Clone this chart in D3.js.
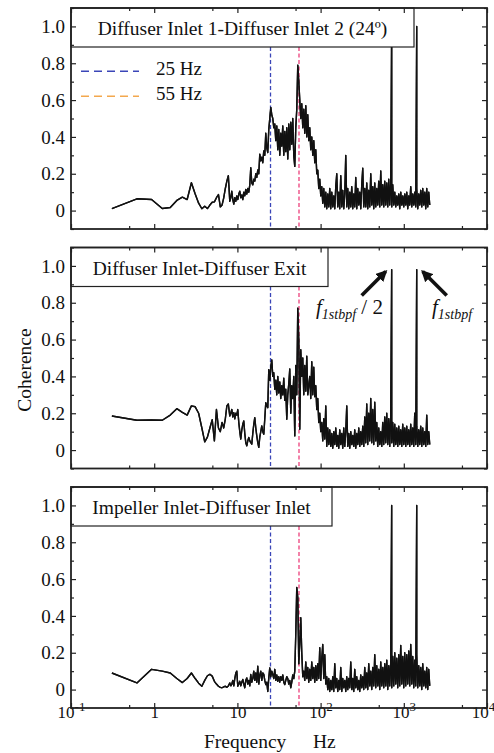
<!DOCTYPE html>
<html>
<head>
<meta charset="utf-8">
<script src="https://cdn.jsdelivr.net/npm/d3@7/dist/d3.min.js"></script>
<style>
  body { margin: 0; background: #fff; }
  svg text { font-family: "Liberation Serif", "Times New Roman", serif; fill: #111; }
</style>
</head>
<body>
<div id="graphic"></div>
<script>
// Coherence spectra - three probe pairs, log frequency axis

// Low-frequency bins (first FFT lines, visible one by one)
let freqLow = [0.31, 0.62, 0.93, 1.25, 1.56, 1.87, 2.18, 2.49, 2.8, 3.11, 3.42, 3.74, 4.05,
  4.36, 4.67, 4.98, 5.29, 5.6, 5.92, 6.23, 6.54, 6.85, 7.16, 7.47, 7.78];

let coh1Low = [0.011, 0.064, 0.06, 0.011, 0.017, 0.055, 0.073, 0.06, 0.151, 0.09, 0.04, 0.01, 0.024,
  0.011, 0.03, 0.045, 0.047, 0.07, 0.087, 0.02, 0.03, 0.069, 0.12, 0.16, 0.19];
let coh2Low = [0.185, 0.162, 0.163, 0.162, 0.19, 0.225, 0.205, 0.19, 0.24, 0.235, 0.2, 0.12, 0.045,
  0.07, 0.12, 0.165, 0.05, 0.22, 0.12, 0.1, 0.15, 0.12, 0.17, 0.24, 0.25];
let coh3Low = [0.09, 0.036, 0.11, 0.1, 0.09, 0.06, 0.038, 0.06, 0.09, 0.06, 0.035, 0.018, 0.05,
  0.075, 0.083, 0.073, 0.045, 0.03, 0.018, 0.012, 0.01, 0.015, 0.018, 0.012, 0.02];

// Dense part of the spectrum, read on a log-even grid from denseStart to denseEnd (Hz)
let denseStart = 8.1, denseEnd = 2050;

let coh1Dense = [
  0.05,0.07,0.105,0.06,0.035,0.07,0.05,0.08,0.06,0.09,
  0.105,0.07,0.085,0.06,0.1,0.08,0.115,0.09,0.12,0.1,
  0.14,0.233,0.15,0.14,0.17,0.16,0.2,0.18,0.22,0.2,
  0.306,0.27,0.29,0.26,0.324,0.3,0.42,0.34,0.315,0.44,
  0.5,0.56,0.52,0.5,0.45,0.47,0.38,0.46,0.33,0.44,
  0.3,0.42,0.35,0.46,0.3,0.43,0.32,0.45,0.28,0.47,
  0.33,0.48,0.36,0.5,0.3,0.24,0.45,0.55,0.79,0.7,
  0.6,0.5,0.58,0.45,0.55,0.42,0.57,0.4,0.52,0.38,
  0.45,0.33,0.4,0.3,0.38,0.26,0.33,0.2,0.22,0.12,
  0.17,0.08,0.13,0.04,0.12,0.02,0.1,0.01,0.09,0.02,
  0.12,0.01,0.1,0.02,0.08,0.01,0.13,0.2,0.02,0.1,
  0.01,0.19,0.02,0.11,0.01,0.09,0.3,0.02,0.12,0.01,
  0.1,0.02,0.13,0.01,0.09,0.02,0.18,0.01,0.12,0.03,
  0.1,0.01,0.14,0.23,0.02,0.12,0.02,0.15,0.01,0.11,
  0.02,0.2,0.03,0.13,0.01,0.15,0.02,0.12,0.03,0.16,
  0.02,0.215,0.03,0.14,0.02,0.16,0.03,0.15,0.02,0.17,
  0.03,0.15,0.02,0.14,0.03,0.1,0.02,0.08,0.03,0.09,
  0.01,0.1,0.03,0.08,0.02,0.09,0.03,0.1,0.01,0.08,
  0.03,0.13,0.02,0.09,0.03,0.1,0.02,0.12,0.01,0.09,
  0.03,0.11,0.02,0.12,0.03,0.1,0.01,0.12,0.02,0.1,0.03];

let coh2Dense = [
  0.185,0.2,0.221,0.18,0.203,0.17,0.2,0.19,0.22,0.15,
  0.1,0.06,0.11,0.14,0.158,0.09,0.04,0.023,0.05,0.069,
  0.05,0.04,0.032,0.09,0.14,0.176,0.12,0.077,0.04,0.015,
  0.07,0.1,0.131,0.1,0.086,0.17,0.257,0.24,0.23,0.437,
  0.38,0.45,0.49,0.4,0.42,0.33,0.38,0.3,0.4,0.31,
  0.37,0.28,0.35,0.3,0.39,0.27,0.33,0.167,0.3,0.36,
  0.44,0.2,0.35,0.28,0.4,0.077,0.46,0.3,0.77,0.6,
  0.113,0.545,0.4,0.5,0.3,0.46,0.32,0.51,0.3,0.35,
  0.4,0.28,0.48,0.3,0.45,0.29,0.35,0.22,0.28,0.15,
  0.2,0.1,0.15,0.05,0.17,0.06,0.24,0.02,0.12,0.03,
  0.11,0.02,0.09,0.01,0.1,0.03,0.12,0.02,0.08,0.01,
  0.11,0.03,0.09,0.01,0.12,0.02,0.1,0.24,0.02,0.09,
  0.01,0.1,0.03,0.08,0.02,0.11,0.01,0.09,0.03,0.12,
  0.02,0.1,0.03,0.13,0.02,0.18,0.04,0.25,0.03,0.2,
  0.05,0.28,0.04,0.22,0.03,0.26,0.05,0.15,0.02,0.12,
  0.03,0.1,0.02,0.15,0.03,0.18,0.04,0.2,0.03,0.17,
  0.02,0.19,0.04,0.15,0.02,0.14,0.03,0.12,0.02,0.13,
  0.03,0.11,0.02,0.14,0.03,0.12,0.02,0.13,0.03,0.11,
  0.02,0.14,0.03,0.12,0.02,0.2,0.03,0.13,0.02,0.11,
  0.03,0.13,0.02,0.12,0.03,0.1,0.02,0.19,0.03,0.1,0.03];

let coh3Dense = [
  0.036,0.02,0.03,0.05,0.02,0.06,0.09,0.1,0.018,0.03,
  0.045,0.02,0.04,0.055,0.03,0.01,0.05,0.063,0.03,0.05,
  0.02,0.082,0.04,0.06,0.1,0.05,0.09,0.04,0.127,0.03,
  0.08,0.1,0.05,0.09,0.082,0.05,0.027,0.04,-0.01,0.063,
  0.118,0.07,0.1,0.082,0.06,0.11,0.05,0.08,0.045,0.07,
  0.04,0.07,0.05,0.08,0.04,0.027,0.05,0.07,0.06,0.03,
  0.05,0.01,0.04,0.08,0.06,0.1,0.3,0.555,0.5,0.14,
  0.25,0.39,0.2,0.07,0.1,0.05,0.15,0.06,0.12,0.04,
  0.11,0.05,0.15,0.06,0.12,0.04,0.13,0.05,0.14,0.06,
  0.227,0.05,0.17,0.245,0.06,0.19,0.03,0.07,0.0,0.06,
  -0.01,0.05,0.0,0.07,-0.01,0.14,0.01,0.06,-0.01,0.05,
  0.0,0.12,-0.01,0.06,0.01,0.05,-0.01,0.07,0.0,0.06,
  0.01,0.15,0.0,0.06,-0.01,0.11,0.01,0.07,0.0,0.05,
  -0.01,0.08,0.01,0.07,0.0,0.12,0.01,0.09,0.0,0.14,
  0.02,0.1,0.0,0.12,0.02,0.19,0.01,0.13,0.02,0.11,
  0.0,0.15,0.02,0.12,0.01,0.14,0.02,0.16,0.0,0.13,
  0.02,0.15,0.01,0.18,0.02,0.2,0.03,0.17,0.01,0.19,
  0.02,0.24,0.03,0.18,0.01,0.2,0.02,0.19,0.03,0.21,
  0.02,0.245,0.03,0.18,0.01,0.16,0.02,0.19,0.01,0.13,
  0.02,0.12,0.0,0.14,0.02,0.1,0.01,0.12,0.0,0.11,0.02];

// Blade passing tones (f1stbpf/2 and f1stbpf)
let spikeFreq = [715, 1430];
let spikeCoh = [[1.0, 1.0], [0.98, 0.98], [1.0, 1.0]];

let panelTitles = ["Diffuser Inlet 1-Diffuser Inlet 2 (24\u00BA)",
  "Diffuser Inlet-Diffuser Exit",
  "Impeller Inlet-Diffuser Inlet"];

let markerFreq = [25, 55];
let markerLabels = ["25 Hz", "55 Hz"];

let yTicks = [0, 0.2, 0.4, 0.6, 0.8, 1.0];
let yTickLabels = ["0", "0.2", "0.4", "0.6", "0.8", "1.0"];
let yMinorTicks = [-0.1, 0.1, 0.3, 0.5, 0.7, 0.9, 1.1];
let xTicks = [0.1, 1, 10, 100, 1000, 10000];
let xTickBase = ["10", "1", "10", "10", "10", "10"];
let xTickExp = ["-1", "", "", "2", "3", "4"];
let xMinorTicks = [0.5, 5, 50, 500, 5000];

// Layout
let W = 494, H = 753;
let left = 71, right = 487;
let panelTop = 8, panelH = 221, panelGap = 18.5;
let boxWidths = [343, 257, 261];
let boxH = 39;

let cadre = d3.select("#graphic")
  .append("svg")
  .attr("width", W)
  .attr("height", H);

let x = d3.scaleLog().domain([0.1, 10000]).range([left, right]);

let lowSets = [coh1Low, coh2Low, coh3Low];
let denseSets = [coh1Dense, coh2Dense, coh3Dense];

// Assemble one series per panel
function buildSeries(p) {
  let pts = freqLow.map(function(f, i){ return {f: f, c: lowSets[p][i]}; });
  let dense = denseSets[p];
  dense.forEach(function(c, i){
    let f = denseStart * Math.pow(denseEnd / denseStart, i / (dense.length - 1));
    pts.push({f: f, c: c});
  });
  spikeFreq.forEach(function(f, k){ pts.push({f: f, c: spikeCoh[p][k]}); });
  pts.sort(function(a, b){ return a.f - b.f; });
  return pts;
}

let lineColors = ["#3b46b8", "#ec3f7a"];
let legendColors = ["#3b46b8", "#f3a84e"];

for (let p = 0; p < 3; p++) {
  let top = panelTop + p * (panelH + panelGap);
  let bottom = top + panelH;
  let y = d3.scaleLinear().domain([-0.1, 1.1]).range([bottom, top]);
  let g = cadre.append("g");

  // Marker lines 25 Hz / 55 Hz
  g.selectAll(".marker")
    .data(markerFreq)
    .enter()
    .append("line")
    .attr("x1", function(d){ return x(d); })
    .attr("x2", function(d){ return x(d); })
    .attr("y1", top)
    .attr("y2", bottom)
    .attr("stroke", function(d, i){ return lineColors[i]; })
    .attr("stroke-width", 1.3)
    .attr("stroke-dasharray", "4,2.5");

  // Coherence trace (stroked twice so the dense band reads as solid ink)
  let line = d3.line()
    .x(function(d){ return x(d.f); })
    .y(function(d){ return y(d.c); });

  let series = buildSeries(p);
  for (let k = 0; k < 2; k++) {
    g.append("path")
      .datum(series)
      .attr("d", line)
      .attr("fill", "none")
      .attr("stroke", "#111")
      .attr("stroke-width", 1.4)
      .attr("stroke-linejoin", "round");
  }

  // Title box
  g.append("rect")
    .attr("x", left)
    .attr("y", top)
    .attr("width", boxWidths[p])
    .attr("height", boxH)
    .attr("fill", "#fff")
    .attr("stroke", "#222")
    .attr("stroke-width", 1.2);
  g.append("text")
    .attr("x", left + boxWidths[p] / 2)
    .attr("y", top + 27)
    .attr("text-anchor", "middle")
    .attr("font-size", 19.5)
    .text(panelTitles[p]);

  // Axes, ticks inward on four sides
  let yAxis = d3.axisLeft(y).tickValues(yTicks).tickSize(-5).tickPadding(6)
    .tickFormat(function(d, i){ return yTickLabels[i]; });
  let ga = g.append("g").attr("transform", `translate(${left},0)`).call(yAxis);
  ga.attr("font-family", null).attr("font-size", 19);
  g.append("g").attr("transform", `translate(${left},0)`)
    .call(d3.axisLeft(y).tickValues(yMinorTicks).tickSize(-3).tickFormat(""));
  g.append("g").attr("transform", `translate(${right},0)`)
    .call(d3.axisRight(y).tickValues(yTicks).tickSize(-5).tickFormat(""));
  g.append("g").attr("transform", `translate(${right},0)`)
    .call(d3.axisRight(y).tickValues(yMinorTicks).tickSize(-3).tickFormat(""));

  let xb = g.append("g").attr("transform", `translate(0,${bottom})`)
    .call(d3.axisBottom(x).tickValues(xTicks).tickSize(-5).tickFormat(""));
  g.append("g").attr("transform", `translate(0,${bottom})`)
    .call(d3.axisBottom(x).tickValues(xMinorTicks).tickSize(-3).tickFormat(""));
  g.append("g").attr("transform", `translate(0,${top})`)
    .call(d3.axisTop(x).tickValues(xTicks).tickSize(-5).tickFormat(""));
  g.append("g").attr("transform", `translate(0,${top})`)
    .call(d3.axisTop(x).tickValues(xMinorTicks).tickSize(-3).tickFormat(""));

  if (p == 2) {
    xb.attr("font-family", null).attr("font-size", 17);
    xb.selectAll(".tick text").each(function(d, i){
      let t = d3.select(this).attr("y", 10).attr("dy", 0);
      // last label sits at the image edge, nudge it in
      if (i == xTicks.length - 1) t.attr("x", -4);
      t.text(xTickBase[i]);
      if (xTickExp[i]) t.append("tspan").attr("dy", -7).attr("font-size", 13).text(xTickExp[i]);
    });
  }

  g.selectAll(".domain").remove();
  g.selectAll(".tick line").attr("stroke", "#222").attr("stroke-width", 1.2);

  // Frame
  g.append("rect")
    .attr("x", left)
    .attr("y", top)
    .attr("width", right - left)
    .attr("height", panelH)
    .attr("fill", "none")
    .attr("stroke", "#222")
    .attr("stroke-width", 1.8);

  // Legend in the first panel
  if (p == 0) {
    markerLabels.forEach(function(lab, i){
      let ly = y(0.8) + 8 + i * 25;
      g.append("line")
        .attr("x1", 81).attr("x2", 139)
        .attr("y1", ly).attr("y2", ly)
        .attr("stroke", legendColors[i])
        .attr("stroke-width", 1.5)
        .attr("stroke-dasharray", "8,5");
      g.append("text")
        .attr("x", 156)
        .attr("y", ly + 4)
        .attr("font-size", 19)
        .text(lab);
    });
  }

  // Arrows to the blade passing tones in the second panel
  if (p == 1) {
    let defs = cadre.append("defs");
    defs.append("marker")
      .attr("id", "head")
      .attr("viewBox", "0 0 10 10")
      .attr("refX", 8).attr("refY", 5)
      .attr("markerWidth", 3.2).attr("markerHeight", 3.2)
      .attr("orient", "auto")
      .append("path")
      .attr("d", "M0,0L10,5L0,10z")
      .attr("fill", "#111");

    let dirs = [-1, 1];
    spikeFreq.forEach(function(f, k){
      let tipX = x(f) + dirs[k] * 6;
      let tipY = y(spikeCoh[p][k]) + 2;
      g.append("line")
        .attr("x1", tipX + dirs[k] * 24).attr("y1", tipY + 24)
        .attr("x2", tipX).attr("y2", tipY)
        .attr("stroke", "#111")
        .attr("stroke-width", 3.6)
        .attr("marker-end", "url(#head)");
    });

    let t1 = g.append("text")
      .attr("x", 316).attr("y", y(0.74))
      .attr("font-size", 21);
    t1.append("tspan").attr("font-style", "italic").text("f");
    t1.append("tspan").attr("font-style", "italic").attr("font-size", 14).attr("dy", 5).text("1stbpf");
    t1.append("tspan").attr("dy", -5).text(" / 2");

    let t2 = g.append("text")
      .attr("x", 432).attr("y", y(0.74))
      .attr("font-size", 21);
    t2.append("tspan").attr("font-style", "italic").text("f");
    t2.append("tspan").attr("font-style", "italic").attr("font-size", 14).attr("dy", 5).text("1stbpf");
  }
}

// Axis titles
cadre.append("text")
  .attr("transform", "translate(31,370) rotate(-90)")
  .attr("text-anchor", "middle")
  .attr("font-size", 19.5)
  .text("Coherence");

cadre.append("text")
  .attr("x", 204)
  .attr("y", 748)
  .attr("font-size", 19.5)
  .text("Frequency");
cadre.append("text")
  .attr("x", 313)
  .attr("y", 748)
  .attr("font-size", 19.5)
  .text("Hz");
</script>
</body>
</html>
